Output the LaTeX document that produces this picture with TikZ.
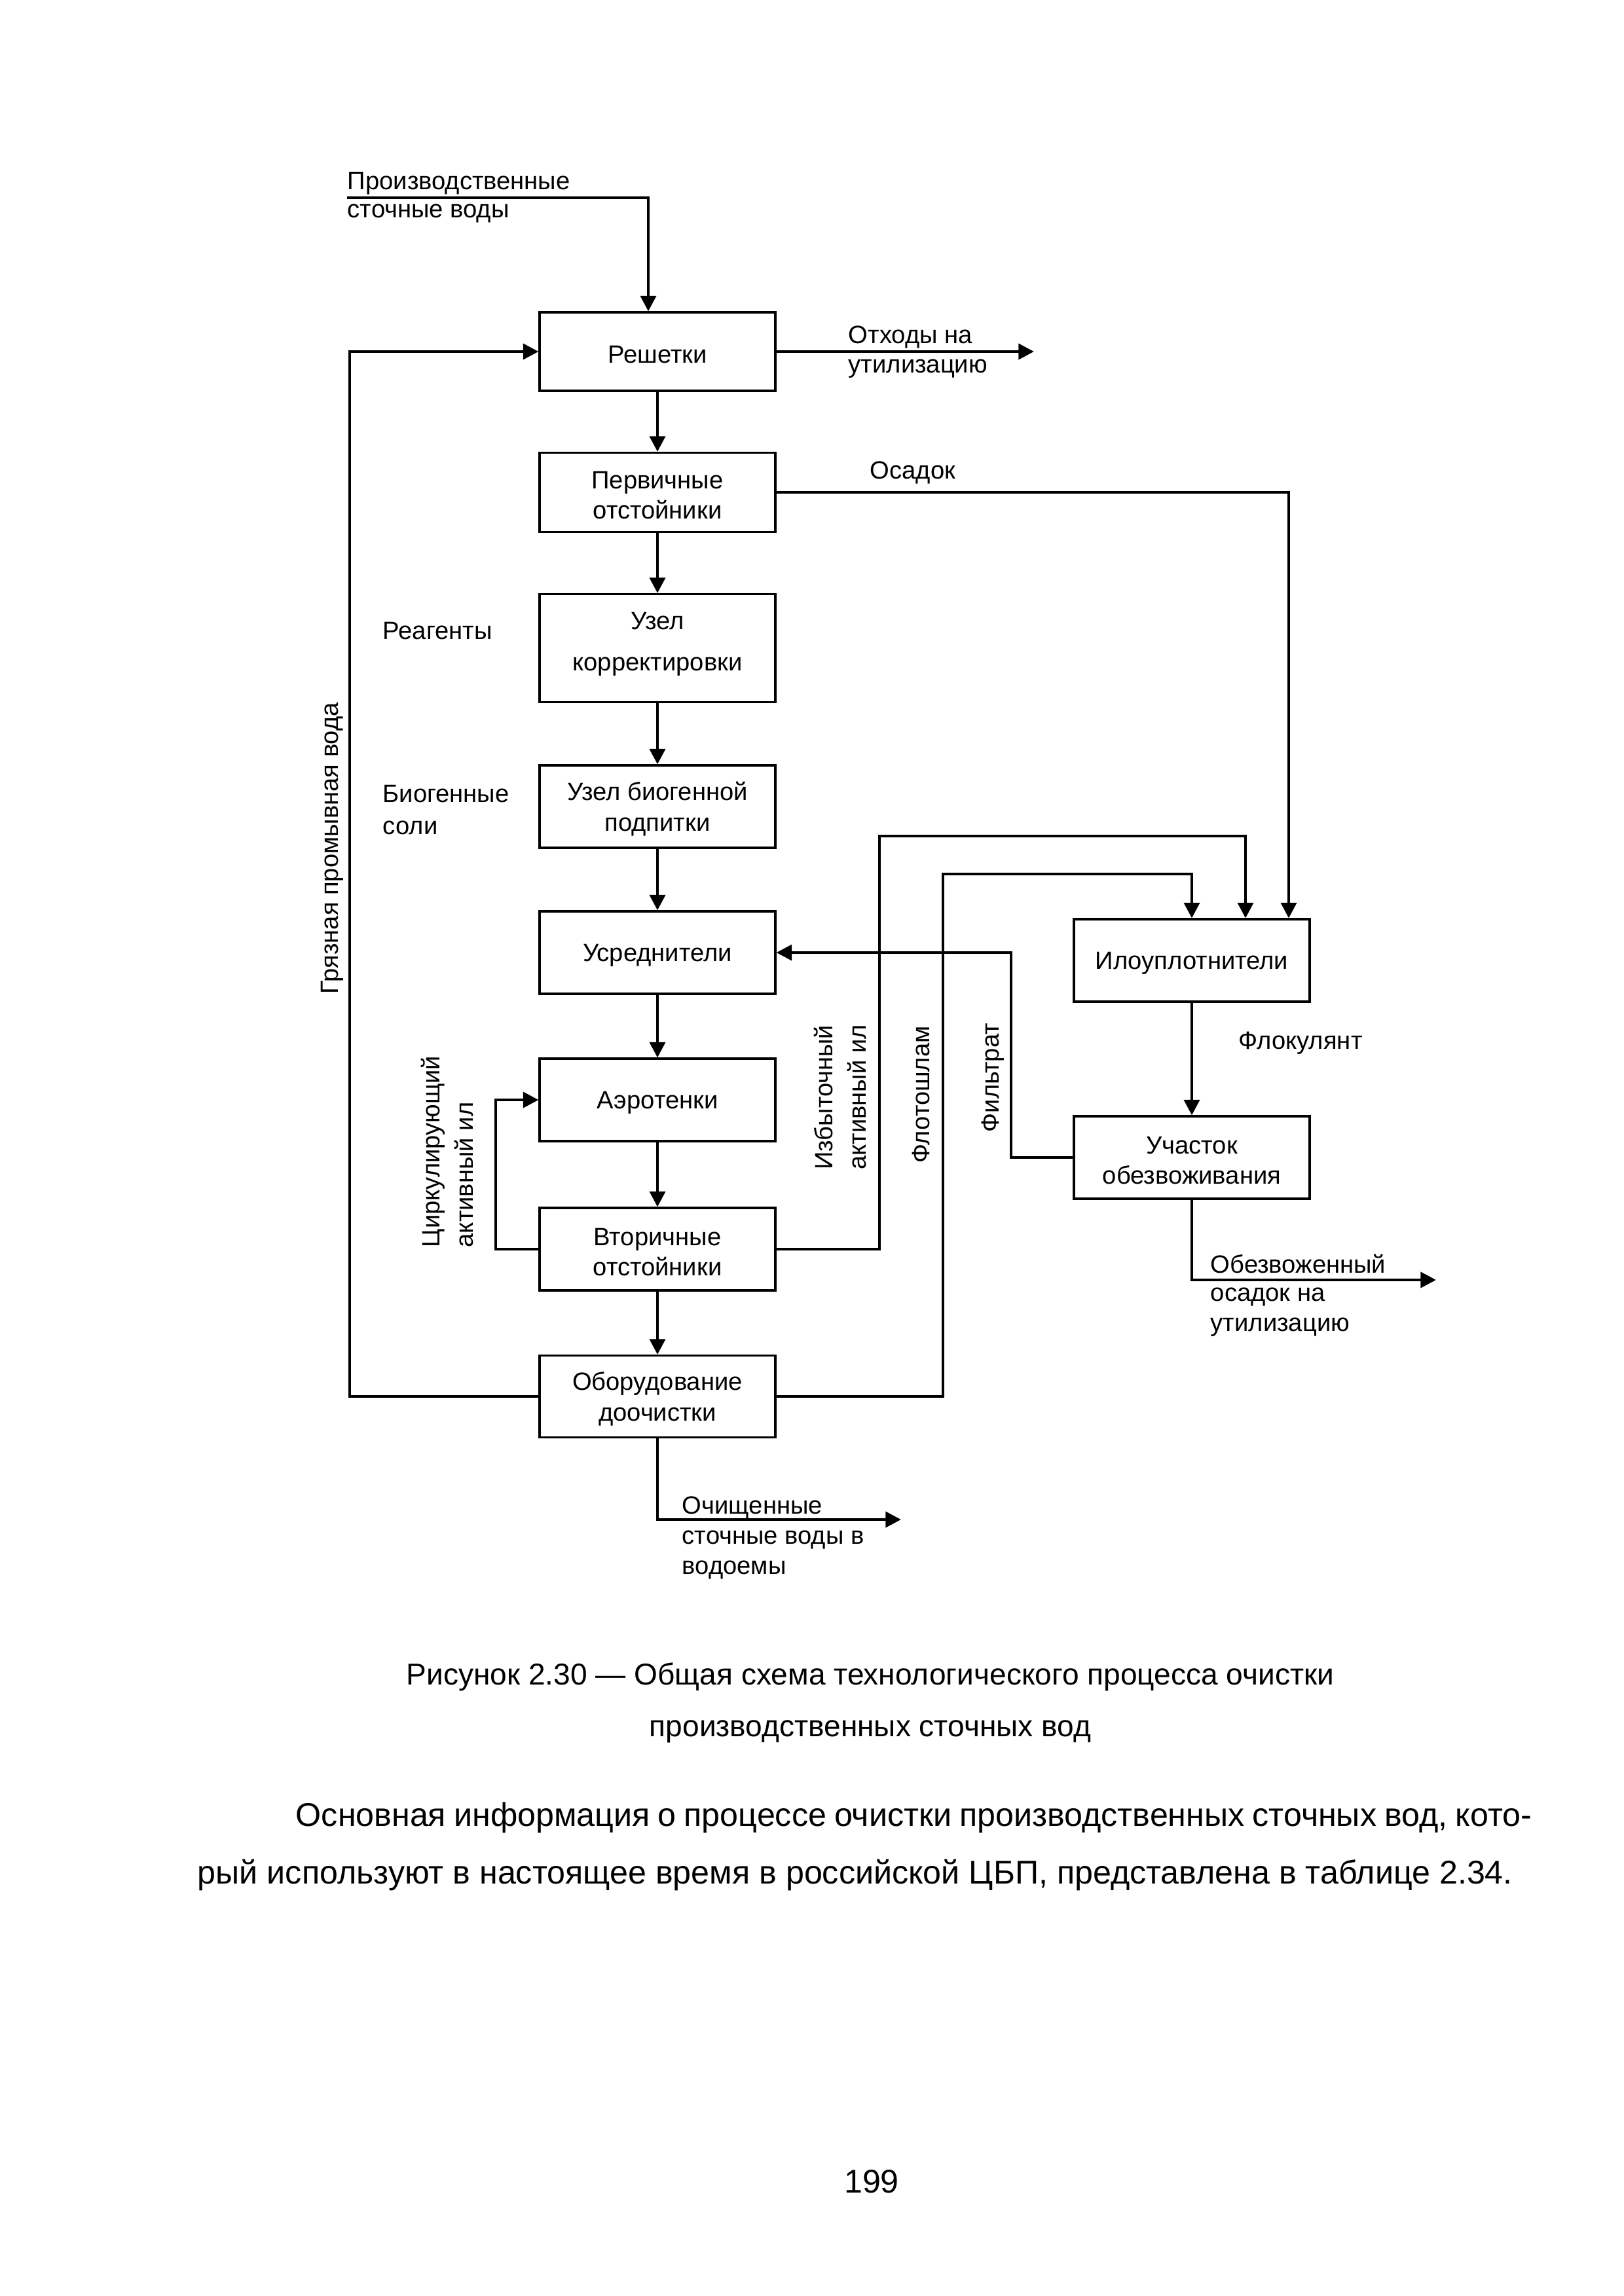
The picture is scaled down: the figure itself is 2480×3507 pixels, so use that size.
\documentclass[tikz,border=0pt]{standalone}
\usepackage{fontspec}
\setmainfont{Liberation Sans}
\usetikzlibrary{arrows.meta}
\newcommand{\dfont}{\fontsize{9.2}{11.2}\selectfont}
\newcommand{\cfont}{\fontsize{11.1}{14}\selectfont}
\newcommand{\pfont}{\fontsize{12.1}{15}\selectfont}
\newcommand{\tb}{\rule{0pt}{8.6pt}}
\begin{document}
\begin{tikzpicture}[x=0.084667mm, y=-0.084667mm,
  box/.style={draw, line width=0.75pt, minimum width=30.48mm, minimum height=10.67mm, inner sep=0pt, align=center, font=\dfont},
  lbl/.style={inner sep=0pt, anchor=west, align=left, font=\dfont},
  rlbl/.style={inner sep=0pt, rotate=90, align=left, font=\dfont},
  arr/.style={line width=1.15pt, -{Triangle[length=2mm, width=2mm]}}]
\path[use as bounding box] (0,0) rectangle (2480,3507);

% boxes
\node[box, minimum height=10.16mm] (resh) at (1004,537) {\tb Решетки};
\node[box, minimum height=10.25mm] (perv) at (1004,752) {\tb Первичные\\отстойники};
\node[box, minimum height=13.97mm, font=\fontsize{9.2}{15.2}\selectfont] (korr) at (1004,990) {Узел\\корректировки\rule[-5pt]{0pt}{0pt}};
\node[box] (biog) at (1004,1232) {\tb Узел биогенной\\подпитки};
\node[box] (usr) at (1004,1455) {\tb Усреднители};
\node[box] (aero) at (1004,1680) {\tb Аэротенки};
\node[box] (vtor) at (1004,1908) {\tb Вторичные\\отстойники};
\node[box, minimum height=10.58mm] (doch) at (1004,2133) {\tb Оборудование\\доочистки};
\node[box] (ilo) at (1820,1467) {\tb Илоуплотнители};
\node[box] (uch) at (1820,1768) {\tb Участок\\обезвоживания};

% coordinates
\coordinate (pin) at (530,302);
\coordinate (pbend) at (990,302);
\coordinate (otx) at (1579,537);
\coordinate (osx) at (1968,752);
\coordinate (izbx) at (1343,1277);
\coordinate (izbe) at (1902,1277);
\coordinate (flx) at (1440,1335);
\coordinate (fix) at (1544,1768);
\coordinate (obz) at (2193,1955);
\coordinate (cir) at (757,1908);
\coordinate (gr) at (534,2133);
\coordinate (och) at (1376,2321);

% connectors
\draw[arr] (pin) -- (pbend) -- (pbend |- resh.north);
\draw[arr] (resh.east) -- (otx);
\draw[arr] (resh.south) -- (perv.north);
\draw[arr] (perv.south) -- (korr.north);
\draw[arr] (korr.south) -- (biog.north);
\draw[arr] (biog.south) -- (usr.north);
\draw[arr] (usr.south) -- (aero.north);
\draw[arr] (aero.south) -- (vtor.north);
\draw[arr] (vtor.south) -- (doch.north);
\draw[arr] (perv.east) -| (osx |- ilo.north);
\draw[arr] (vtor.east) -| (izbx) -| (izbe |- ilo.north);
\draw[arr] (doch.east) -| (flx) -| (ilo.north);
\draw[arr] (uch.west) -- (fix) |- (usr.east);
\draw[arr] (ilo.south) -- (uch.north);
\draw[arr] (uch.south) |- (obz);
\draw[arr] (vtor.west) -- (cir) |- (aero.west);
\draw[arr] (doch.west) -- (gr) |- (resh.west);
\draw[arr] (doch.south) |- (och);

% labels
\node[lbl] (l1) at (530,280) {Производственные};
\node[lbl] (l2) at (530,326) {сточные воды};
\node[lbl] (l3) at (1295,515) {Отходы на};
\node[lbl] (l4) at (1295,563) {утилизацию};
\node[lbl] (l5) at (1328,722) {Осадок};
\node[lbl] (l6) at (584,964) {Реагенты};
\node[lbl, font=\fontsize{9.2}{12}\selectfont] (l7) at (584,1237) {Биогенные\\соли};
\node[lbl] (l8) at (1891,1593) {Флокулянт};
\node[lbl] (l9) at (1848,1930) {Обезвоженный};
\node[lbl] (l10) at (1848,2004) {осадок на\\утилизацию};
\node[lbl] (l11) at (1041,2303) {Очищенные};
\node[lbl] (l12) at (1041,2375) {сточные воды в\\водоемы};
\node[rlbl] (r1) at (507,1296) {Грязная промывная вода};
\node[rlbl, font=\fontsize{9.2}{12.2}\selectfont] (r2) at (683,1759) {Циркулирующий\\активный ил};
\node[rlbl, font=\fontsize{9.2}{12.2}\selectfont] (r3) at (1283,1676) {Избыточный\\активный ил};
\node[rlbl] (r4) at (1406,1672) {Флотошлам};
\node[rlbl] (r5) at (1516,1646) {Фильтрат};

% caption and text
\node[inner sep=0pt, font=\cfont] (cap1) at (1329,2561) {Рисунок 2.30 — Общая схема технологического процесса очистки};
\node[inner sep=0pt, font=\cfont] (cap2) at (1329,2645) {производственных сточных вод};
\node[inner sep=0pt, anchor=west, font=\pfont] (p1) at (451,2776) {\makebox[159.8mm][s]{Основная информация о процессе очистки производственных сточных вод, кото-}};
\node[inner sep=0pt, anchor=west, font=\pfont] (p2) at (301,2864) {рый используют в настоящее время в российской ЦБП, представлена в таблице 2.34.};
\node[inner sep=0pt, font=\pfont] (pg) at (1331,3332) {199};
\end{tikzpicture}
\end{document}
